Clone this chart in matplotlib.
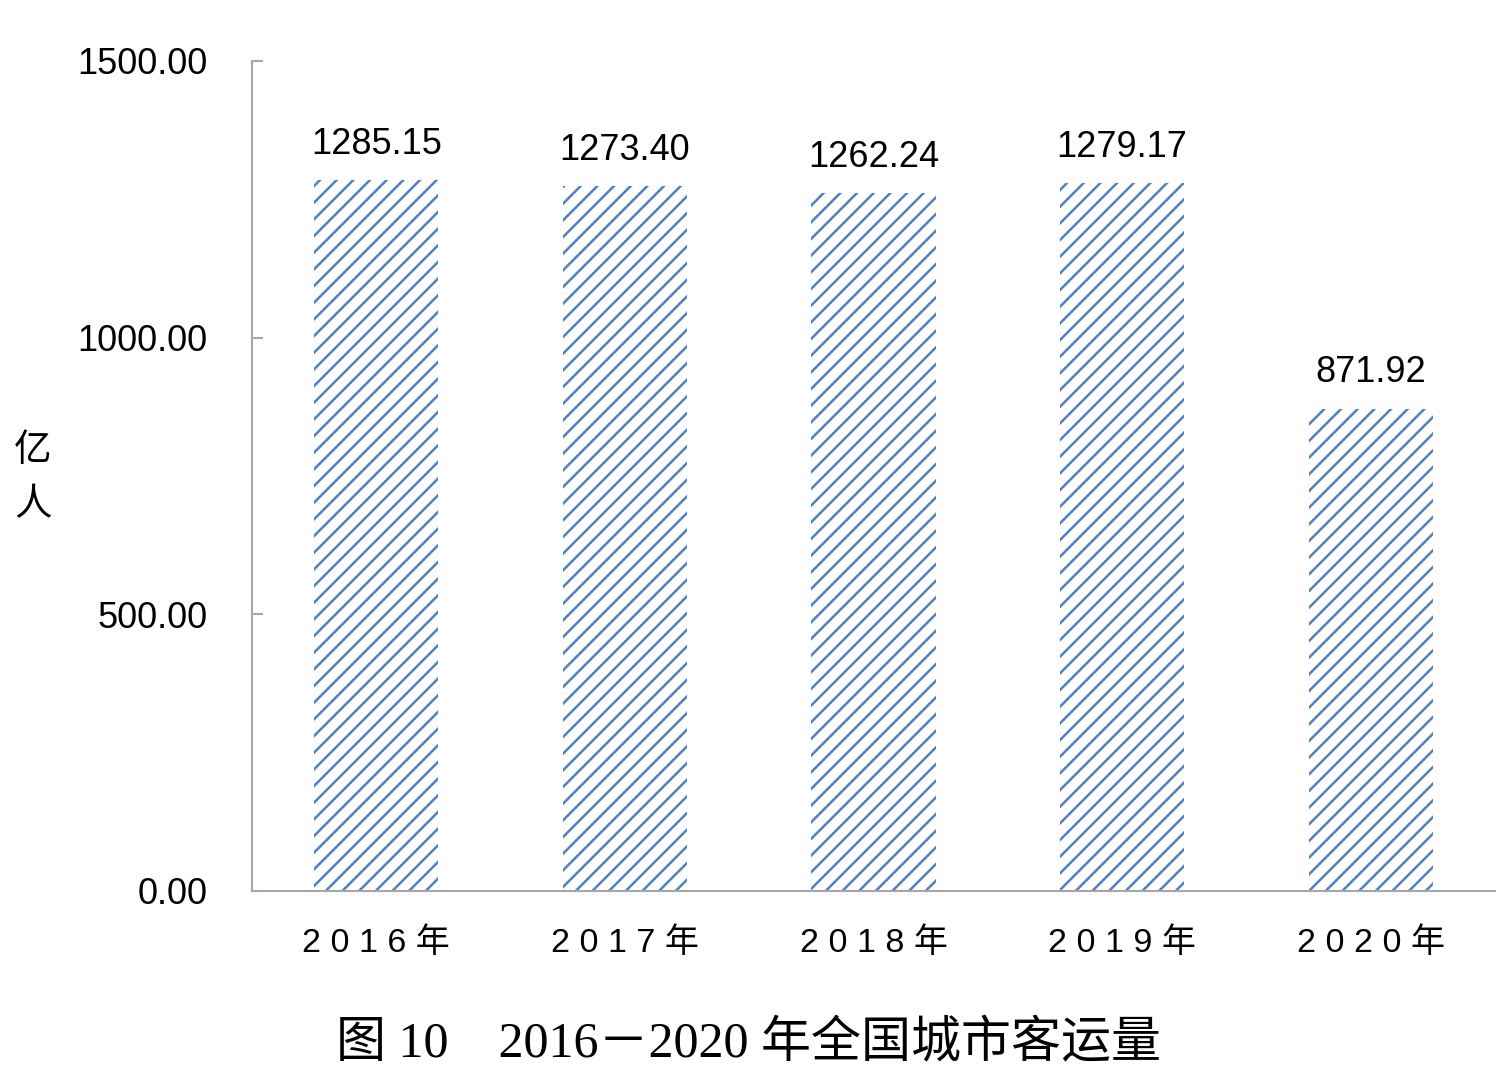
import matplotlib
matplotlib.use("Agg")
import matplotlib.pyplot as plt

years = ["2016", "2017", "2018", "2019", "2020"]
values = [1285.15, 1273.40, 1262.24, 1279.17, 871.92]
yticks = [0, 500, 1000, 1500]
ytick_labels = ["0.00", "500.00", "1000.00", "1500.00"]
title = "图 10\u30002016－2020 年全国城市客运量"
ylabel = "亿\n人"

plt.rcParams['hatch.linewidth'] = 1.8
sans = ['Liberation Sans', 'Noto Sans CJK SC']
serif = ['Liberation Serif', 'Noto Sans CJK SC']

fig = plt.figure(figsize=(15.11, 10.88), dpi=100)
ax = fig.add_axes([252/1511, 197/1088, 1243/1511, 830/1088])

hatch_color = '#4f81bd'
x = list(range(len(years)))
bars = ax.bar(x, values, width=0.5, facecolor='white', edgecolor=hatch_color,
              linewidth=0, hatch='//')

for xi, v in zip(x, values):
    ax.annotate(f"{v:.2f}", (xi, v), xytext=(0, 13), textcoords='offset points',
                ha='center', va='bottom', fontsize=26, family=sans)

ax.set_xlim(-0.5, len(years) - 0.5)
ax.set_ylim(0, 1500)
ax.set_yticks(yticks)
ax.set_yticklabels(ytick_labels, fontsize=26, family=sans)
ax.set_xticks(x)
ax.set_xticklabels([" ".join(list(y)) + " 年" for y in years], fontsize=24.5, family=sans)

gray = '#a6a6a6'
for s in ['top', 'right']:
    ax.spines[s].set_visible(False)
for s in ['left', 'bottom']:
    ax.spines[s].set_color(gray)
    ax.spines[s].set_linewidth(1.5)
ax.tick_params(axis='y', direction='in', length=8, width=1.5, color=gray, pad=32)
ax.tick_params(axis='x', length=0, pad=26)

fig.text(33/1511, 1 - 478/1088, ylabel, ha='center', va='center', fontsize=27,
         family=['Noto Sans CJK SC'], linespacing=1.5)
fig.text(748/1511, 1 - 1045/1088, title, ha='center', va='center', fontsize=36,
         family=serif)

fig.savefig("out.png", dpi=100)
